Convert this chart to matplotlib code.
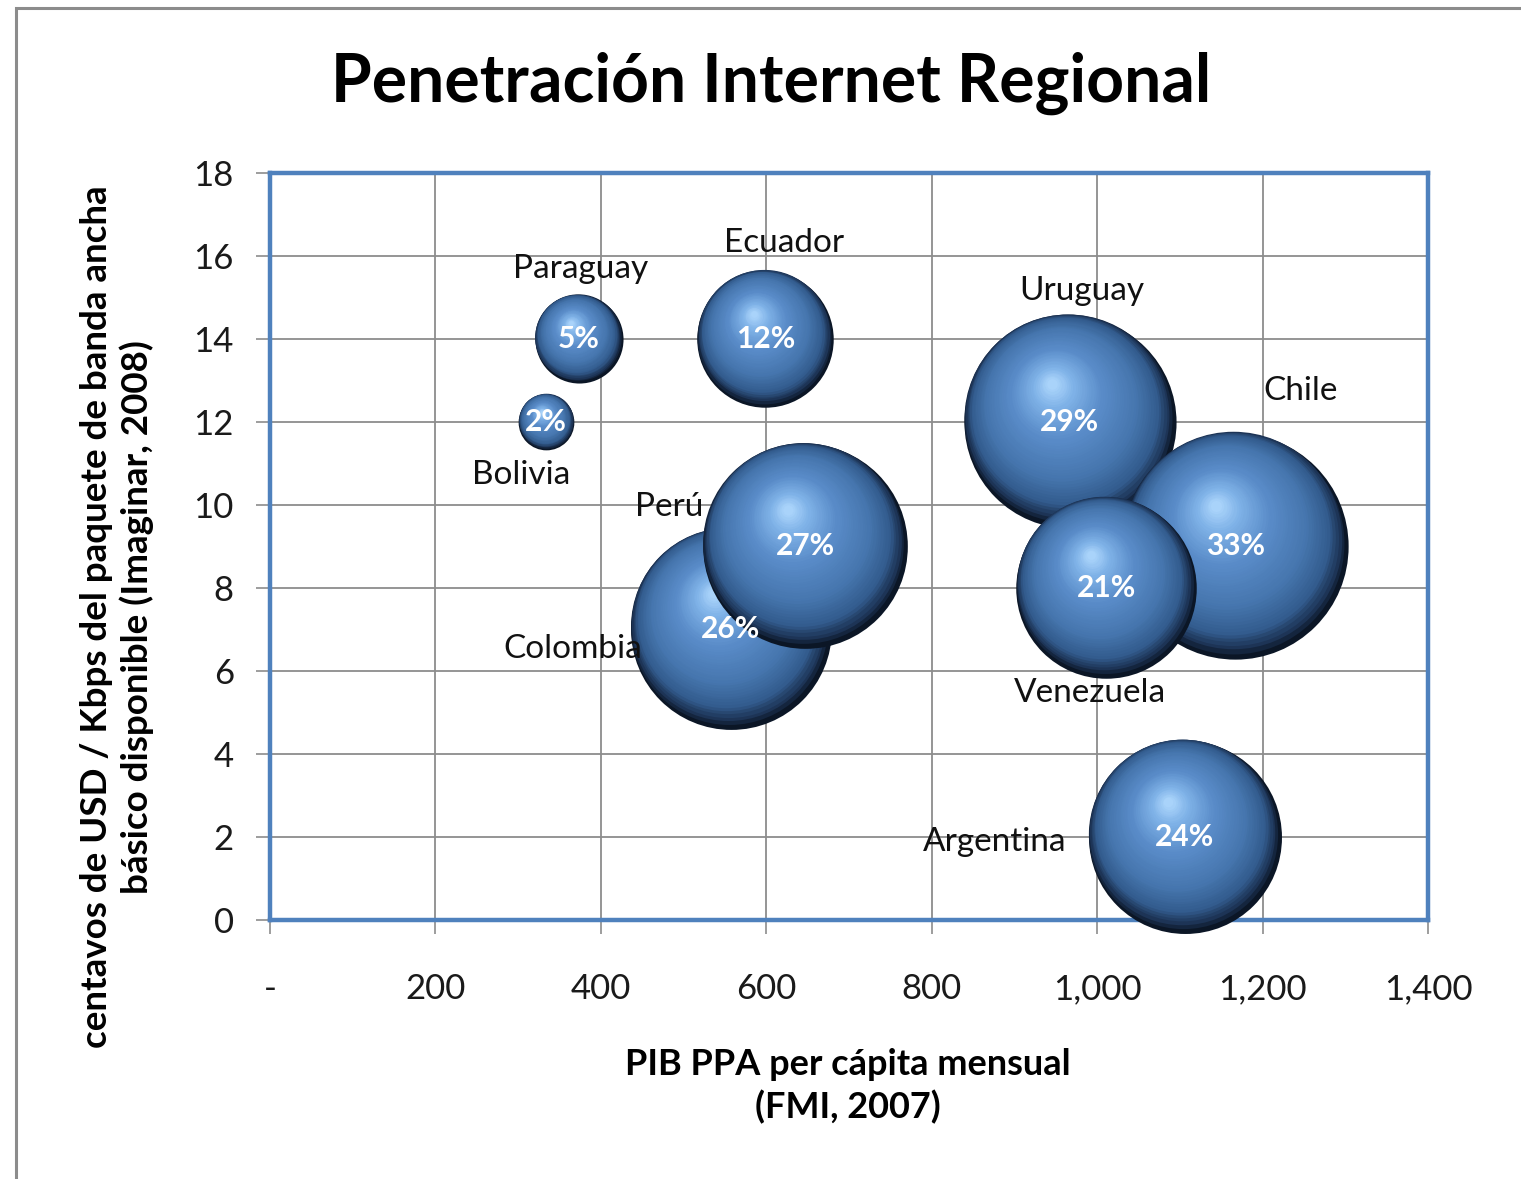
import matplotlib
matplotlib.use("Agg")
import matplotlib.pyplot as plt
import matplotlib.transforms as mtransforms
from matplotlib.colors import LinearSegmentedColormap
from matplotlib.patches import Rectangle
from matplotlib.ticker import FuncFormatter, MultipleLocator
import numpy as np

# Data
countries = ["Colombia", "Perú", "Bolivia", "Paraguay", "Ecuador",
             "Uruguay", "Chile", "Venezuela", "Argentina"]
pib_ppa = [557, 647, 334, 373, 599, 967, 1167, 1011, 1106]          # x
centavos_kbps = [7, 9, 12, 14, 14, 12, 9, 8, 2]                       # y
penetracion = [26, 27, 2, 5, 12, 29, 33, 21, 24]                      # bubble size (%)

# label offsets (pixels) from bubble centre, like Excel's manual label placement
label_offsets = {
    "Colombia": (-158, -20), "Perú": (-136, 39), "Bolivia": (-25, -53),
    "Paraguay": (2, 70), "Ecuador": (19, 96), "Uruguay": (12, 131),
    "Chile": (65, 155), "Venezuela": (-16, -105), "Argentina": (-190, -5),
}

plt.rcParams['font.family'] = ['Lato', 'DejaVu Sans']

fig = plt.figure(figsize=(15.21, 11.79), dpi=100)
ax = fig.add_axes([0.1775, 0.2197, 0.7614, 0.6336])

# outer chart border (cut off on the right and bottom)
fig.patches.append(Rectangle((16 / 1521, -0.05), 1.1, 1 - 8 / 1179 + 0.05,
                             transform=fig.transFigure, fill=False,
                             edgecolor="#8c8c8c", linewidth=2.2))

# sphere shading
sphere = LinearSegmentedColormap.from_list(
    "sphere", [(0.0, "#0b1626"), (0.04, "#1d3557"), (0.12, "#335c8e"),
               (0.30, "#4676ae"), (0.60, "#5a8cc9"), (0.85, "#80b3e8"),
               (1.0, "#a9d3fa")])

k = 14.18  # points of radius per sqrt(%)
n_layers = 50
for i, (c, x, y, p) in enumerate(zip(countries, pib_ppa, centavos_kbps, penetracion)):
    R = k * np.sqrt(p)
    for j in range(n_layers):
        t = j / (n_layers - 1)
        r = R * (1 - 0.95 * t)
        g = t ** 0.6
        tr = ax.transData + mtransforms.ScaledTranslation(
            -0.17 * R * g / 72, 0.36 * R * g / 72, fig.dpi_scale_trans)
        ax.scatter([x], [y], s=(2 * r) ** 2, color=sphere(t), linewidths=0,
                   transform=tr, zorder=3 + i * 0.01, clip_on=False)
    ax.text(x, y, f"{p}%", color="white", fontsize=21.5, fontweight="bold",
            ha="center", va="center", zorder=8)
    dx, dy = label_offsets[c]
    ax.annotate(c, (x, y), xytext=(dx, dy), textcoords="offset pixels",
                ha="center", va="center", fontsize=24, color="#111111", zorder=10)

ax.set_xlim(0, 1400)
ax.set_ylim(0, 18)
ax.xaxis.set_major_locator(MultipleLocator(200))
ax.yaxis.set_major_locator(MultipleLocator(2))
ax.xaxis.set_major_formatter(FuncFormatter(lambda v, _: "-" if v == 0 else f"{v:,.0f}"))
ax.grid(True, color="#8c8c8c", linewidth=1.3, zorder=0)
ax.set_axisbelow(True)
for s in ax.spines.values():
    s.set_color("#4f81bd")
    s.set_linewidth(3.2)
ax.tick_params(axis="both", direction="out", length=10, width=1.2, color="#8c8c8c",
               labelsize=25, labelcolor="#1a1a1a")
ax.tick_params(axis="x", pad=28)
ax.tick_params(axis="y", pad=16)

fig.text(771 / 1521, 1 - 83 / 1179, "Penetración Internet Regional",
         ha="center", va="center", fontsize=47.5, fontweight="bold")
fig.text(117 / 1521, 1 - 617 / 1179,
         "centavos de USD / Kbps del paquete de banda ancha\nbásico disponible (Imaginar, 2008)",
         rotation=90, ha="center", va="center", multialignment="center",
         fontsize=26.5, fontweight="bold", linespacing=1.25)
fig.text(848 / 1521, 1 - 1086 / 1179, "PIB PPA per cápita mensual\n(FMI, 2007)",
         ha="center", va="center", multialignment="center",
         fontsize=26, fontweight="bold", linespacing=1.3)

fig.savefig("out.png", dpi=100, facecolor="white")
